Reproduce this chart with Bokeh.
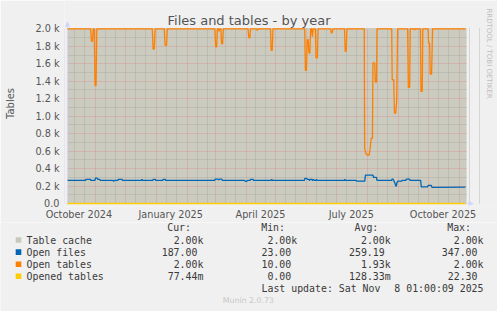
import math
from datetime import datetime
from bokeh.plotting import figure
from bokeh.layouts import column
from bokeh.models import FixedTicker, Label, Range1d, PolyAnnotation
from bokeh.core.properties import value
from bokeh.embed import file_html
from bokeh.resources import INLINE

# ---------------- data (days since start of the 400-day window) ----------------
START = datetime(2024, 10, 4, 1, 0, 9)
END = datetime(2025, 11, 8, 1, 0, 9)

table_cache_day = [0, 399]
table_cache_val = [2000, 2000]

open_files_day = [0, 18, 18.5, 23, 23.5, 27.5, 28, 29.7, 30.5, 32.3, 33, 45.5, 46.3, 47,
                  50.5, 51, 54.7, 55.3, 74, 74.7, 75.4, 85.5, 86, 88, 88.5, 95.5, 96, 98,
                  98.5, 147.5, 148, 151, 151.5, 152.5, 154.7, 155.3, 177.5, 178.5, 179.7,
                  180.5, 183, 183.7, 186, 186.6, 204, 204.7, 205.4, 237.5, 238, 239.7,
                  240.5, 242, 242.5, 243.5, 245, 245.5, 246.5, 247.5, 249, 249.5, 250.5,
                  277.5, 278, 278.7, 289.5, 289.8, 298, 298.7, 306.3, 306.8, 309.7, 310.3,
                  325, 325.3, 326.3, 327, 328, 329.5, 330.3, 331.3, 334.7, 335.5, 339.2,
                  339.7, 343, 343.5, 354, 354.7, 356.3, 361, 361.5, 364.7, 365.5, 399]
open_files_val = [264, 264, 276, 276, 264, 264, 291, 291, 276, 276, 264, 264, 253, 264,
                  264, 276, 276, 264, 264, 276, 264, 264, 276, 276, 264, 264, 276, 276,
                  264, 264, 278, 278, 270, 278, 278, 264, 264, 253, 253,
                  264, 264, 276, 276, 264, 264, 276, 264, 264, 287, 287,
                  276, 276, 264, 276, 276, 264, 276, 264, 264, 276, 264,
                  264, 276, 264, 264, 256, 256, 325, 325, 299, 299, 264,
                  264, 279, 279, 264, 240, 195, 240, 256, 256, 264, 264,
                  279, 279, 264, 264, 191, 191, 191, 207, 207, 184, 187]

open_tables_day = [0, 23.2, 24, 25, 25.8, 26.8, 27.6, 28.6, 29.4, 85, 85.8, 87, 87.8,
                   97, 97.8, 99.3, 100, 147.7, 148.5, 149.5, 150.2, 151, 151.8, 152.6,
                   153.7, 154.5, 155.5, 156.2, 181, 181.8, 182.8, 183.5, 189.5, 190.3,
                   191.3, 203.5, 204.2, 205.2, 206, 237.8, 238.5, 239.5, 240.3, 241.3,
                   242, 243, 243.8, 244.8, 245.5, 246.3, 248.5, 249.2, 250.5, 251.2,
                   263.7, 264.4, 265.3, 266, 277.7, 278.4, 279.4, 280.1, 297.5, 297.9,
                   299, 300.5, 302.3, 303, 304.5, 305.7, 306.2, 308, 308.6, 309.8, 310.3,
                   325, 325.5, 327, 327.8, 329, 330, 331, 341, 341.7, 343, 343.6, 347.5,
                   348, 348.5, 353.8, 354.4, 355.6, 356.2, 361.5, 362, 363, 363.6, 365,
                   366, 399]
open_tables_val = [2000, 2000, 1857, 1857, 2000, 2000, 1351, 1351, 2000, 2000, 1769, 1769, 2000,
                   2000, 1811, 1811, 2000, 2000, 1792, 1792, 2000, 2000, 1972, 2000,
                   2000, 1827, 1827, 2000, 2000, 1896, 1896, 2000, 2000, 1980,
                   2000, 2000, 1753, 1753, 2000, 2000, 1524, 1524, 1876, 1876,
                   1723, 1723, 2000, 2000, 1910, 2000, 2000, 1666, 1666, 2000,
                   2000, 1953, 1953, 2000, 2000, 1742, 1742, 2000, 2000, 632,
                   575, 555, 555, 593, 747, 747, 1609, 1609, 1390, 1390, 2000,
                   2000, 1417, 1417, 1034, 1034, 1167, 2000, 2000, 1329, 1329, 2000, 2000,
                   1985, 2000, 2000, 1283, 1283, 2000, 2000, 1838, 1838, 1482, 1482,
                   2000, 2000]

opened_tables_day = [0, 399]
opened_tables_val = [0.13, 0.08]

series_names = ["Table cache", "Open files", "Open tables", "Opened tables"]
series_colors = ["#C8C8BE", "#0066B3", "#FF8000", "#FFCC00"]
cur_vals = ["2.00k", "187.00", "2.00k", "77.44m"]
min_vals = ["2.00k", "23.00", "10.00", "0.00"]
avg_vals = ["2.00k", "259.19", "1.93k", "128.33m"]
max_vals = ["2.00k", "347.00", "2.00k", "22.30"]
stat_headers = ["Cur:", "Min:", "Avg:", "Max:"]

x_tick_dates = [datetime(2024, 10, 15, 12), datetime(2025, 1, 15, 12), datetime(2025, 4, 15, 12),
                datetime(2025, 7, 15, 12), datetime(2025, 10, 15, 12)]
x_tick_labels = ["October 2024", "January 2025", "April 2025", "July 2025", "October 2025"]
y_tick_vals = [0, 200, 400, 600, 800, 1000, 1200, 1400, 1600, 1800, 2000]
y_tick_labels = ["0.0", "0.2 k", "0.4 k", "0.6 k", "0.8 k", "1.0 k", "1.2 k", "1.4 k",
                 "1.6 k", "1.8 k", "2.0 k"]

# ---------------- helpers ----------------
EPOCH = datetime(1970, 1, 1)
DAY_MS = 86400000


def ms(dt):
    return int((dt - EPOCH).total_seconds() * 1000)


def to_x(days):
    return [ms(START) + d * DAY_MS for d in days]


W, H = 497, 311
HA = 222                      # height of chart figure
FLA, FBA = 64, 206            # chart frame left / bottom (canvas px)
PX_LEFT, PX_RIGHT = 67, 466   # data area in canvas px
PX_TOP, PX_BOTTOM = 28.3, 203
KX = (PX_RIGHT - PX_LEFT) / 400.0           # px per day
KY = (PX_BOTTOM - PX_TOP) / 2000.0          # px per unit

BACK = "#F0F0F0"
CANVAS = "#CBCBBF"
AXIS = "#CFD6F8"
MGRID = "#E07070"
GRID = "#9A9A94"
SANS = "DejaVu Sans"
MONO = "DejaVu Sans Mono"
TXT = "#3A3A3A"

x0 = ms(START) - (PX_LEFT - FLA) / KX * DAY_MS
x1 = ms(END) + (W - PX_RIGHT) / KX * DAY_MS
y0 = -(FBA - PX_BOTTOM) / KY
y1 = 2000 + PX_TOP / KY

p = figure(width=W, height=HA, x_axis_type="datetime",
           x_range=Range1d(x0, x1), y_range=Range1d(y0, y1),
           output_backend="svg", toolbar_location=None, title=None,
           min_border_left=FLA, min_border_right=0,
           min_border_top=0, min_border_bottom=HA - FBA,
           background_fill_color=BACK, border_fill_color=BACK,
           outline_line_color=None)
p.frame_align = False

# canvas (grey plotting area)
p.quad(left=[ms(START)], right=[ms(END)], bottom=[0], top=[2000],
       fill_color=CANVAS, line_color=None, level="image")

# grids
month_starts = []
minor_days = []
for (yy, mm) in [(2024, 10), (2024, 11), (2024, 12), (2025, 1), (2025, 2), (2025, 3), (2025, 4),
                 (2025, 5), (2025, 6), (2025, 7), (2025, 8), (2025, 9), (2025, 10), (2025, 11)]:
    month_starts.append(ms(datetime(yy, mm, 1)))
    minor_days.append(ms(datetime(yy, mm, 11)))
    minor_days.append(ms(datetime(yy, mm, 21)))

p.xgrid.ticker = FixedTicker(ticks=month_starts, minor_ticks=minor_days)
p.ygrid.ticker = FixedTicker(ticks=y_tick_vals, minor_ticks=[v + 100 for v in y_tick_vals[:-1]])
p.xgrid.bounds = (ms(START), ms(END))
p.ygrid.bounds = (0, 2000)
p.xgrid.cross_bounds = (0, 2000)
p.ygrid.cross_bounds = (ms(START), ms(END))
for g in (p.xgrid, p.ygrid):
    g.grid_line_color = MGRID
    g.grid_line_alpha = 0.5
    g.grid_line_dash = "1 1"
    g.grid_line_width = 1
    g.minor_grid_line_color = GRID
    g.minor_grid_line_alpha = 0.6
    g.minor_grid_line_dash = "1 1"
    g.minor_grid_line_width = 1

# axes (at the frame edges; their visible lines are drawn at the data edges below)
p.xaxis.ticker = FixedTicker(ticks=[ms(d) for d in x_tick_dates])
p.xaxis.major_label_overrides = {ms(d): l for d, l in zip(x_tick_dates, x_tick_labels)}
p.yaxis.ticker = FixedTicker(ticks=y_tick_vals)
p.yaxis.major_label_overrides = {v: l for v, l in zip(y_tick_vals, y_tick_labels)}
for ax in (p.xaxis, p.yaxis):
    ax.axis_line_color = None
    ax.major_tick_line_color = None
    ax.minor_tick_line_color = None
    ax.major_tick_out = 0
    ax.major_tick_in = 0
    ax.major_label_text_font = SANS
    ax.major_label_text_font_size = "9.7px"
    ax.major_label_text_color = "#555555"
p.xaxis.major_label_standoff = 2
p.yaxis.major_label_standoff = 5
p.yaxis.axis_label = "Tables"
p.yaxis.axis_label_text_font = SANS
p.yaxis.axis_label_text_font_size = "10px"
p.yaxis.axis_label_text_font_style = "normal"
p.yaxis.axis_label_text_color = "#555555"
p.yaxis.axis_label_standoff = 16

# axis lines
p.segment(x0=[ms(START)], y0=[0], x1=[ms(START)], y1=[2000 + 2.3 / KY],
          line_color=AXIS, line_width=1)
p.segment(x0=[ms(START)], y0=[0], x1=[ms(END) + 2 * DAY_MS], y1=[0],
          line_color=AXIS, line_width=1)

# series
p.line(to_x(table_cache_day), table_cache_val, line_color=series_colors[0], line_width=1.2)
p.line(to_x(open_files_day), open_files_val, line_color=series_colors[1], line_width=1.3)
p.line(to_x(open_tables_day), open_tables_val, line_color=series_colors[2], line_width=1.3)
p.line(to_x(opened_tables_day), opened_tables_val, line_color=series_colors[3], line_width=1.3)


def lab(text, px, py, size, color, font=SANS, align="left", angle=0.0):
    p.add_layout(Label(x=px - FLA, y=FBA - py, x_units="screen", y_units="screen", text=text,
                       text_font=font, text_font_size=size, text_color=color,
                       text_align=align, text_baseline="middle", angle=angle))


def poly(pts, color):
    p.add_layout(PolyAnnotation(xs=[x - FLA for x, y in pts], ys=[FBA - y for x, y in pts],
                                xs_units="screen", ys_units="screen",
                                fill_color=color, fill_alpha=1.0, line_color=None))


lab("Files and tables - by year", 248.5, 19.5, "13px", "#555555", align="center")
lab("RRDTOOL / TOBI OETIKER", 488.5, 53, "7px", "#BDBDBD", align="center", angle=-math.pi / 2)
poly([(64.4, 26.2), (69.6, 26.2), (67.0, 20.5)], AXIS)
poly([(468.0, 200.4), (468.0, 205.6), (473.5, 203.0)], AXIS)

# ---------------- legend figure (canvas pixel coordinates) ----------------
TOPB = HA
q = figure(width=W, height=H - HA, x_range=Range1d(0, W), y_range=Range1d(H, TOPB),
           output_backend="svg", toolbar_location=None, title=None,
           x_axis_location=None, y_axis_location=None,
           min_border=0, background_fill_color=BACK, border_fill_color=BACK,
           outline_line_color=None)
q.frame_align = False
q.xgrid.visible = False
q.ygrid.visible = False

LF = "9.9px"
CW = 6.0
head_x = [166.7, 260.7, 354.0, 446.7]
col_end = [202.9, 296.7, 390.2, 483.0]
rows_y = [239.5, 251.6, 263.7, 275.8]
HEAD_Y = 227.3

q.quad(left=[15.2] * 4, right=[20.8] * 4, top=[y - 2.8 for y in rows_y],
       bottom=[y + 2.8 for y in rows_y], fill_color=series_colors, line_color=None)

lx, ly, lt = list(head_x), [HEAD_Y] * 4, list(stat_headers)
for i, name in enumerate(series_names):
    lx.append(26.0)
    ly.append(rows_y[i])
    lt.append(name)
lx.append(261.0)
ly.append(287.9)
lt.append("Last update: Sat Nov")
q.text(x=lx, y=ly, text=lt, text_font=value(MONO), text_font_size=LF, text_color=TXT,
       text_align="left", text_baseline="middle")

rx, ry, rt = [], [], []
for c, vals in enumerate([cur_vals, min_vals, avg_vals, max_vals]):
    for i, v in enumerate(vals):
        rx.append(col_end[c] - (0 if v[-1] in "km" else CW))
        ry.append(rows_y[i])
        rt.append(v)
rx.append(483.0)
ry.append(287.9)
rt.append("8 01:00:09 2025")
q.text(x=rx, y=ry, text=rt, text_font=value(MONO), text_font_size=LF, text_color=TXT,
       text_align="right", text_baseline="middle")

q.text(x=[247.8], y=[300.0], text=["Munin 2.0.73"], text_font=value(SANS),
       text_font_size="7.8px", text_color="#C8C8C8", text_align="center",
       text_baseline="middle")

layout = column(p, q, spacing=0)
open("out.html", "w").write(file_html(layout, INLINE))
